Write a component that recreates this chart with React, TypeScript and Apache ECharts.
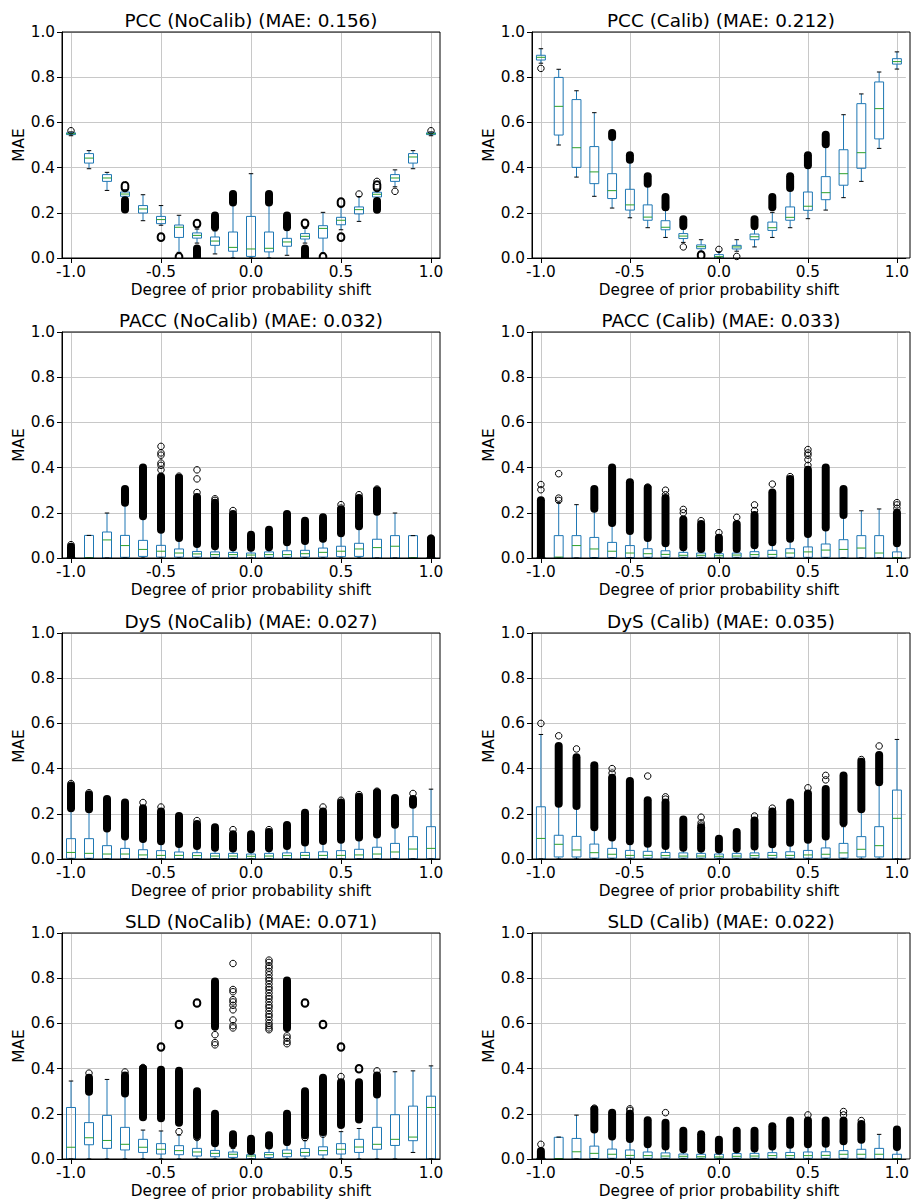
import React, { useEffect, useRef } from "react";
import * as echarts from "echarts";

// ---------------- DATA ----------------
const shiftLabels = [
  "-1.0", "-0.9", "-0.8", "-0.7", "-0.6", "-0.5", "-0.4", "-0.3", "-0.2", "-0.1",
  "0.0", "0.1", "0.2", "0.3", "0.4", "0.5", "0.6", "0.7", "0.8", "0.9", "1.0",
];

// box rows: [lower whisker, Q1, median, Q3, upper whisker]
// bands: [category index, low, high] dense flier clusters; points: [category index, value] single fliers

const pccNoCalibBoxes = [
  [0.541, 0.546, 0.55, 0.554, 0.558], [0.395, 0.42, 0.442, 0.462, 0.475], [0.299, 0.339, 0.354, 0.369, 0.379],
  [0.262, 0.273, 0.283, 0.292, 0.302], [0.165, 0.199, 0.217, 0.232, 0.28], [0.145, 0.152, 0.17, 0.184, 0.232],
  [0.025, 0.091, 0.136, 0.146, 0.189], [0.066, 0.088, 0.1, 0.111, 0.128], [0.018, 0.056, 0.075, 0.093, 0.12],
  [0.0, 0.03, 0.047, 0.115, 0.24], [0.0, 0.007, 0.04, 0.184, 0.373], [0.0, 0.027, 0.043, 0.115, 0.24],
  [0.012, 0.052, 0.071, 0.087, 0.125], [0.066, 0.084, 0.096, 0.108, 0.131], [0.022, 0.088, 0.131, 0.143, 0.202],
  [0.125, 0.147, 0.167, 0.18, 0.229], [0.162, 0.195, 0.214, 0.226, 0.272], [0.258, 0.27, 0.282, 0.291, 0.305],
  [0.315, 0.339, 0.354, 0.369, 0.39], [0.395, 0.42, 0.447, 0.462, 0.475], [0.541, 0.546, 0.55, 0.554, 0.558],
];
const pccNoCalibBands = [
  [3, 0.31, 0.322], [3, 0.215, 0.255], [5, 0.09, 0.095], [6, 0.004, 0.007], [7, 0.15, 0.155], [7, 0.003, 0.042],
  [8, 0.136, 0.188], [9, 0.246, 0.283], [11, 0.246, 0.283], [12, 0.136, 0.188], [13, 0.15, 0.156], [13, 0.003, 0.042],
  [14, 0.004, 0.007], [15, 0.24, 0.25], [15, 0.09, 0.095], [17, 0.31, 0.325], [17, 0.213, 0.252],
];
const pccNoCalibPoints = [[0, 0.563], [16, 0.283], [17, 0.339], [18, 0.295], [20, 0.563]];

const pccCalibBoxes = [
  [0.862, 0.876, 0.888, 0.897, 0.926], [0.5, 0.544, 0.671, 0.799, 0.835], [0.358, 0.401, 0.488, 0.701, 0.74],
  [0.273, 0.329, 0.381, 0.493, 0.643], [0.221, 0.263, 0.298, 0.373, 0.525], [0.178, 0.212, 0.235, 0.304, 0.425],
  [0.134, 0.167, 0.181, 0.235, 0.318], [0.091, 0.125, 0.136, 0.165, 0.212], [0.069, 0.086, 0.097, 0.108, 0.128],
  [0.028, 0.041, 0.05, 0.058, 0.081], [0.0, 0.0, 0.006, 0.015, 0.028], [0.03, 0.04, 0.049, 0.056, 0.081],
  [0.049, 0.081, 0.094, 0.106, 0.128], [0.091, 0.122, 0.134, 0.159, 0.202], [0.134, 0.167, 0.18, 0.226, 0.3],
  [0.174, 0.211, 0.229, 0.292, 0.405], [0.212, 0.258, 0.289, 0.36, 0.498], [0.267, 0.322, 0.373, 0.479, 0.634],
  [0.339, 0.397, 0.466, 0.683, 0.726], [0.485, 0.527, 0.661, 0.779, 0.823], [0.836, 0.858, 0.869, 0.882, 0.912],
];
const pccCalibBands = [
  [4, 0.535, 0.553], [5, 0.435, 0.455], [6, 0.328, 0.362], [7, 0.225, 0.27], [8, 0.142, 0.172], [9, 0.009, 0.015],
  [12, 0.142, 0.172], [13, 0.225, 0.27], [14, 0.31, 0.362], [15, 0.41, 0.455], [16, 0.503, 0.545],
];
const pccCalibPoints = [[0, 0.839], [8, 0.049], [10, 0.038], [11, 0.007]];

const paccNoCalibBoxes = [
  [0, 0, 0, 0, 0], [0, 0, 0.001, 0.1, 0.1], [0, 0, 0.08, 0.115, 0.199],
  [0, 0.003, 0.055, 0.1, 0.24], [0, 0.007, 0.038, 0.078, 0.18], [0, 0.004, 0.03, 0.056, 0.12],
  [0, 0.004, 0.022, 0.04, 0.084], [0, 0.004, 0.018, 0.029, 0.058], [0, 0.003, 0.015, 0.027, 0.049],
  [0, 0.003, 0.015, 0.025, 0.044], [0, 0.0, 0.013, 0.022, 0.041], [0, 0.003, 0.015, 0.027, 0.044],
  [0, 0.003, 0.015, 0.032, 0.066], [0, 0.004, 0.019, 0.034, 0.071], [0, 0.004, 0.025, 0.044, 0.081],
  [0, 0.006, 0.03, 0.052, 0.108], [0, 0.007, 0.04, 0.065, 0.133], [0, 0.0, 0.046, 0.083, 0.199],
  [0, 0.0, 0.052, 0.099, 0.199], [0, 0, 0.001, 0.099, 0.099], [0, 0, 0, 0, 0],
];
const paccNoCalibBands = [
  [0, 0.0, 0.05], [3, 0.245, 0.305], [4, 0.185, 0.4], [5, 0.125, 0.36], [6, 0.088, 0.355], [7, 0.062, 0.27],
  [8, 0.052, 0.245], [9, 0.048, 0.195], [10, 0.045, 0.103], [11, 0.048, 0.125], [12, 0.07, 0.195],
  [13, 0.075, 0.165], [14, 0.085, 0.18], [15, 0.11, 0.215], [16, 0.14, 0.265], [17, 0.205, 0.3], [20, 0.0, 0.085],
];
const paccNoCalibPoints = [
  [0, 0.059], [5, 0.39], [5, 0.41], [5, 0.42], [5, 0.455], [5, 0.465], [5, 0.494], [6, 0.362], [7, 0.29],
  [7, 0.35], [7, 0.39], [8, 0.255], [8, 0.262], [9, 0.21], [15, 0.221], [15, 0.236], [16, 0.28], [17, 0.305], [20, 0.088],
];

const paccCalibBoxes = [
  [0, 0, 0, 0, 0], [0, 0, 0.004, 0.099, 0.245], [0, 0, 0.055, 0.099, 0.236],
  [0, 0.002, 0.04, 0.091, 0.212], [0, 0.002, 0.03, 0.069, 0.152], [0, 0.002, 0.022, 0.055, 0.118],
  [0, 0.003, 0.019, 0.041, 0.084], [0, 0.003, 0.016, 0.032, 0.062], [0, 0.003, 0.012, 0.025, 0.044],
  [0, 0.003, 0.012, 0.022, 0.037], [0, 0.0, 0.01, 0.019, 0.034], [0, 0.003, 0.013, 0.022, 0.037],
  [0, 0.003, 0.015, 0.028, 0.052], [0, 0.003, 0.016, 0.034, 0.066], [0, 0.003, 0.022, 0.041, 0.081],
  [0, 0.003, 0.027, 0.049, 0.103], [0, 0.003, 0.035, 0.062, 0.131], [0, 0.0, 0.038, 0.081, 0.184],
  [0, 0.0, 0.044, 0.099, 0.209], [0, 0.0, 0.022, 0.099, 0.217], [0, 0.0, 0.001, 0.027, 0.06],
];
const paccCalibBands = [
  [0, 0.0, 0.255], [3, 0.218, 0.305], [4, 0.155, 0.4], [5, 0.12, 0.335], [6, 0.088, 0.31], [7, 0.065, 0.265],
  [8, 0.048, 0.17], [9, 0.04, 0.15], [10, 0.038, 0.09], [11, 0.04, 0.15], [12, 0.056, 0.19], [13, 0.07, 0.29],
  [14, 0.085, 0.35], [15, 0.106, 0.39], [16, 0.135, 0.4], [17, 0.19, 0.305], [20, 0.065, 0.2],
];
const paccCalibPoints = [
  [0, 0.302], [0, 0.325], [1, 0.255], [1, 0.265], [1, 0.373], [6, 0.314], [7, 0.28], [7, 0.3], [8, 0.2],
  [8, 0.215], [9, 0.165], [10, 0.112], [11, 0.18], [12, 0.21], [12, 0.235], [13, 0.327], [14, 0.36],
  [15, 0.41], [15, 0.435], [15, 0.455], [15, 0.465], [15, 0.48], [20, 0.22], [20, 0.235], [20, 0.245],
];

const dysNoCalibBoxes = [
  [0, 0.003, 0.029, 0.09, 0.219], [0, 0.003, 0.025, 0.09, 0.216], [0, 0.001, 0.022, 0.059, 0.131],
  [0, 0.001, 0.022, 0.047, 0.096], [0, 0.001, 0.018, 0.041, 0.084], [0, 0.001, 0.016, 0.037, 0.074],
  [0, 0.001, 0.016, 0.031, 0.062], [0, 0.001, 0.015, 0.028, 0.054], [0, 0.001, 0.013, 0.025, 0.047],
  [0, 0.001, 0.013, 0.025, 0.043], [0, 0.001, 0.012, 0.022, 0.04], [0, 0.001, 0.013, 0.025, 0.044],
  [0, 0.001, 0.015, 0.027, 0.054], [0, 0.001, 0.016, 0.029, 0.069], [0, 0.001, 0.016, 0.032, 0.077],
  [0, 0.001, 0.016, 0.037, 0.081], [0, 0.001, 0.018, 0.043, 0.091], [0, 0.001, 0.022, 0.052, 0.103],
  [0, 0.001, 0.031, 0.069, 0.147], [0, 0.001, 0.044, 0.099, 0.231], [0, 0.001, 0.047, 0.143, 0.309],
];
const dysNoCalibBands = [
  [0, 0.225, 0.325], [1, 0.22, 0.285], [2, 0.135, 0.265], [3, 0.1, 0.25], [4, 0.088, 0.225], [5, 0.078, 0.21],
  [6, 0.066, 0.19], [7, 0.058, 0.155], [8, 0.05, 0.14], [9, 0.047, 0.11], [10, 0.043, 0.11], [11, 0.048, 0.12],
  [12, 0.058, 0.15], [13, 0.073, 0.205], [14, 0.08, 0.21], [15, 0.085, 0.25], [16, 0.095, 0.275],
  [17, 0.108, 0.295], [18, 0.152, 0.27], [19, 0.24, 0.265],
];
const dysNoCalibPoints = [
  [0, 0.334], [1, 0.293], [4, 0.25], [5, 0.23], [7, 0.17], [9, 0.13], [11, 0.13], [14, 0.23], [15, 0.26],
  [16, 0.285], [17, 0.3], [19, 0.29],
];

const dysCalibBoxes = [
  [0, 0.0, 0.091, 0.231, 0.551], [0, 0.009, 0.065, 0.105, 0.242], [0, 0.009, 0.04, 0.1, 0.231],
  [0, 0.004, 0.028, 0.066, 0.135], [0, 0.004, 0.021, 0.047, 0.091], [0, 0.004, 0.016, 0.038, 0.074],
  [0, 0.004, 0.016, 0.034, 0.065], [0, 0.004, 0.015, 0.029, 0.054], [0, 0.004, 0.013, 0.027, 0.047],
  [0, 0.004, 0.013, 0.025, 0.044], [0, 0.004, 0.012, 0.022, 0.04], [0, 0.004, 0.013, 0.025, 0.044],
  [0, 0.004, 0.015, 0.027, 0.052], [0, 0.004, 0.016, 0.029, 0.062], [0, 0.004, 0.016, 0.032, 0.069],
  [0, 0.004, 0.018, 0.038, 0.081], [0, 0.004, 0.021, 0.049, 0.096], [0, 0.004, 0.027, 0.069, 0.143],
  [0, 0.009, 0.043, 0.099, 0.216], [0, 0.009, 0.059, 0.143, 0.334], [0, 0.0, 0.18, 0.305, 0.529],
];
const dysCalibBands = [
  [1, 0.245, 0.5], [2, 0.235, 0.45], [3, 0.14, 0.415], [4, 0.095, 0.36], [5, 0.078, 0.345], [6, 0.068, 0.26],
  [7, 0.058, 0.25], [8, 0.05, 0.175], [9, 0.047, 0.14], [10, 0.043, 0.09], [11, 0.047, 0.12], [12, 0.055, 0.17],
  [13, 0.065, 0.21], [14, 0.072, 0.25], [15, 0.085, 0.29], [16, 0.1, 0.31], [17, 0.16, 0.37], [18, 0.22, 0.43],
  [19, 0.34, 0.46],
];
const dysCalibPoints = [
  [0, 0.6], [1, 0.545], [2, 0.487], [4, 0.38], [4, 0.4], [6, 0.367], [7, 0.265], [7, 0.275], [9, 0.15],
  [9, 0.16], [9, 0.185], [12, 0.19], [13, 0.225], [15, 0.315], [16, 0.35], [16, 0.37], [18, 0.44], [19, 0.5],
];

const sldNoCalibBoxes = [
  [0, 0.0, 0.052, 0.228, 0.345], [0, 0.063, 0.094, 0.161, 0.293], [0, 0.047, 0.082, 0.193, 0.352],
  [0, 0.04, 0.065, 0.14, 0.283], [0, 0.029, 0.052, 0.087, 0.128], [0, 0.022, 0.043, 0.068, 0.124],
  [0, 0.019, 0.037, 0.059, 0.106], [0, 0.013, 0.031, 0.047, 0.087], [0, 0.01, 0.025, 0.038, 0.062],
  [0, 0.007, 0.021, 0.031, 0.047], [0, 0.001, 0.013, 0.019, 0.032], [0, 0.006, 0.019, 0.029, 0.047],
  [0, 0.01, 0.025, 0.04, 0.062], [0, 0.013, 0.029, 0.046, 0.081], [0, 0.018, 0.037, 0.054, 0.106],
  [0, 0.022, 0.043, 0.068, 0.121], [0, 0.029, 0.053, 0.087, 0.135], [0, 0.043, 0.065, 0.14, 0.275],
  [0, 0.06, 0.087, 0.196, 0.386], [0.029, 0.081, 0.097, 0.234, 0.39], [0, 0.0, 0.228, 0.278, 0.412],
];
const sldNoCalibBands = [
  [1, 0.298, 0.36], [3, 0.29, 0.37], [4, 0.185, 0.4], [5, 0.18, 0.395], [5, 0.494, 0.498], [6, 0.16, 0.39],
  [6, 0.593, 0.597], [7, 0.105, 0.3], [7, 0.688, 0.692], [8, 0.07, 0.2], [8, 0.585, 0.785], [9, 0.065, 0.11],
  [10, 0.035, 0.09], [11, 0.06, 0.105], [12, 0.075, 0.2], [12, 0.58, 0.79], [13, 0.105, 0.3], [13, 0.688, 0.692],
  [14, 0.12, 0.36], [14, 0.593, 0.597], [15, 0.15, 0.34], [15, 0.494, 0.498], [16, 0.175, 0.34], [16, 0.397, 0.401],
  [17, 0.285, 0.37],
];
const sldNoCalibPoints = [
  [1, 0.38], [3, 0.385], [4, 0.405], [6, 0.121], [7, 0.095],
  [8, 0.505], [8, 0.515], [8, 0.55], [9, 0.58], [9, 0.59], [9, 0.615], [9, 0.66], [9, 0.68], [9, 0.695],
  [9, 0.705], [9, 0.74], [9, 0.75], [9, 0.865],
  [11, 0.572], [11, 0.58], [11, 0.59], [11, 0.6], [11, 0.615], [11, 0.63], [11, 0.64], [11, 0.655], [11, 0.67],
  [11, 0.68], [11, 0.695], [11, 0.71], [11, 0.72], [11, 0.735], [11, 0.75], [11, 0.76], [11, 0.775], [11, 0.79],
  [11, 0.8], [11, 0.815], [11, 0.83], [11, 0.845], [11, 0.855], [11, 0.87], [11, 0.88],
  [12, 0.51], [12, 0.52], [12, 0.535], [12, 0.545], [13, 0.095], [14, 0.11],
  [15, 0.365], [17, 0.39],
];

const sldCalibBoxes = [
  [0, 0, 0.0, 0.003, 0.003], [0, 0, 0.002, 0.096, 0.097], [0, 0.0, 0.032, 0.091, 0.194],
  [0, 0.002, 0.025, 0.057, 0.128], [0, 0.003, 0.021, 0.044, 0.096], [0, 0.003, 0.016, 0.04, 0.084],
  [0, 0.003, 0.015, 0.031, 0.062], [0, 0.003, 0.013, 0.027, 0.052], [0, 0.003, 0.012, 0.022, 0.04],
  [0, 0.003, 0.01, 0.021, 0.037], [0, 0.003, 0.009, 0.021, 0.034], [0, 0.003, 0.012, 0.024, 0.04],
  [0, 0.003, 0.013, 0.025, 0.043], [0, 0.003, 0.015, 0.028, 0.052], [0, 0.003, 0.015, 0.029, 0.059],
  [0, 0.003, 0.015, 0.031, 0.062], [0, 0.003, 0.016, 0.032, 0.065], [0, 0.003, 0.021, 0.037, 0.074],
  [0, 0.003, 0.021, 0.043, 0.081], [0, 0.0, 0.021, 0.047, 0.109], [0, 0.0, 0.001, 0.021, 0.05],
];
const sldCalibBands = [
  [0, 0.0, 0.035], [3, 0.13, 0.22], [4, 0.1, 0.205], [5, 0.088, 0.2], [6, 0.065, 0.172], [7, 0.055, 0.16],
  [8, 0.043, 0.125], [9, 0.04, 0.11], [10, 0.037, 0.085], [11, 0.043, 0.125], [12, 0.047, 0.125],
  [13, 0.055, 0.145], [14, 0.063, 0.17], [15, 0.065, 0.17], [16, 0.068, 0.17], [17, 0.078, 0.17],
  [18, 0.085, 0.155], [20, 0.053, 0.13],
];
const sldCalibPoints = [
  [0, 0.065], [3, 0.225], [5, 0.215], [5, 0.222], [7, 0.205], [15, 0.195], [17, 0.195], [17, 0.21], [18, 0.17],
];

const panelTitles = [
  "PCC (NoCalib) (MAE: 0.156)", "PCC (Calib) (MAE: 0.212)",
  "PACC (NoCalib) (MAE: 0.032)", "PACC (Calib) (MAE: 0.033)",
  "DyS (NoCalib) (MAE: 0.027)", "DyS (Calib) (MAE: 0.035)",
  "SLD (NoCalib) (MAE: 0.071)", "SLD (Calib) (MAE: 0.022)",
];
const panelBoxes = [pccNoCalibBoxes, pccCalibBoxes, paccNoCalibBoxes, paccCalibBoxes, dysNoCalibBoxes, dysCalibBoxes, sldNoCalibBoxes, sldCalibBoxes];
const panelBands = [pccNoCalibBands, pccCalibBands, paccNoCalibBands, paccCalibBands, dysNoCalibBands, dysCalibBands, sldNoCalibBands, sldCalibBands];
const panelPoints = [pccNoCalibPoints, pccCalibPoints, paccNoCalibPoints, paccCalibPoints, dysNoCalibPoints, dysCalibPoints, sldNoCalibPoints, sldCalibPoints];

// ---------------- LAYOUT / STYLE ----------------
const COL_LEFT = [62, 532];
const ROW_TOP = [32, 332, 633, 933];
const PLOT_W = 378;
const PLOT_H = 226;
const FONT = "DejaVu Sans";
const TICK_FS = 15.3;
const TITLE_FS = 18.4;
const BLUE = "#1f77b4";
const GREEN = "#2ca02c";
const GRID_C = "#c8c8c8";

export default function App() {
  const ref = useRef<HTMLDivElement>(null);

  useEffect(() => {
    if (!ref.current) return;
    const chart = echarts.init(ref.current, undefined, { renderer: "svg" });

    const grids: any[] = [];
    const xAxes: any[] = [];
    const yAxes: any[] = [];
    const series: any[] = [];
    const graphics: any[] = [];

    for (let k = 0; k < 8; k++) {
      const left = COL_LEFT[k % 2];
      const top = ROW_TOP[Math.floor(k / 2)];
      grids.push({ left, top, width: PLOT_W, height: PLOT_H, containLabel: false });
      xAxes.push({
        gridIndex: k,
        type: "category",
        data: shiftLabels,
        boundaryGap: true,
        axisLine: { show: true, lineStyle: { color: "#000", width: 1 } },
        axisTick: { show: true, alignWithLabel: true, interval: 4, length: 5, lineStyle: { color: "#000", width: 1 } },
        axisLabel: { interval: 4, fontSize: TICK_FS, fontFamily: FONT, color: "#000", margin: 6 },
        splitLine: { show: true, interval: 4, alignWithLabel: true, lineStyle: { color: GRID_C, width: 1 } },
        name: "Degree of prior probability shift",
        nameLocation: "middle",
        nameGap: 24,
        nameTextStyle: { fontSize: TICK_FS, fontFamily: FONT, color: "#000", verticalAlign: "top" },
      });
      yAxes.push({
        gridIndex: k,
        type: "value",
        min: 0,
        max: 1,
        interval: 0.2,
        axisLine: { show: true, lineStyle: { color: "#000", width: 1 } },
        axisTick: { show: true, length: 5, lineStyle: { color: "#000", width: 1 } },
        axisLabel: { fontSize: TICK_FS, fontFamily: FONT, color: "#000", margin: 7, formatter: (v: number) => v.toFixed(1) },
        splitLine: { show: true, lineStyle: { color: GRID_C, width: 1 } },
        name: "MAE",
        nameLocation: "middle",
        nameGap: 33,
        nameTextStyle: { fontSize: TICK_FS, fontFamily: FONT, color: "#000" },
      });

      series.push({
        type: "custom",
        xAxisIndex: k,
        yAxisIndex: k,
        clip: true,
        z: 2,
        data: panelBoxes[k].map((b, i) => [i, ...b]),
        encode: { x: 0, y: [1, 2, 3, 4, 5] },
        renderItem: (params: any, api: any) => {
          const i = api.value(0);
          const lo = api.coord([i, api.value(1)]);
          const q1 = api.coord([i, api.value(2)]);
          const md = api.coord([i, api.value(3)]);
          const q3 = api.coord([i, api.value(4)]);
          const hi = api.coord([i, api.value(5)]);
          const band = api.size([1, 0])[0];
          const bw = band * 0.5;
          const cw = bw * 0.5;
          const cx = lo[0];
          const ln = (x1: number, y1: number, x2: number, y2: number, c: string) => ({
            type: "line",
            shape: { x1, y1, x2, y2 },
            style: { stroke: c, lineWidth: 1 },
          });
          return {
            type: "group",
            children: [
              ln(cx, q3[1], cx, hi[1], BLUE),
              ln(cx, q1[1], cx, lo[1], BLUE),
              {
                type: "rect",
                shape: { x: cx - bw / 2, y: q3[1], width: bw, height: q1[1] - q3[1] },
                style: { fill: "none", stroke: BLUE, lineWidth: 1 },
              },
              ln(cx - cw / 2, hi[1], cx + cw / 2, hi[1], "#000"),
              ln(cx - cw / 2, lo[1], cx + cw / 2, lo[1], "#000"),
              ln(cx - bw / 2, md[1], cx + bw / 2, md[1], GREEN),
            ],
          };
        },
      });

      series.push({
        type: "custom",
        xAxisIndex: k,
        yAxisIndex: k,
        clip: true,
        z: 3,
        data: panelBands[k],
        encode: { x: 0, y: [1, 2] },
        renderItem: (params: any, api: any) => {
          const i = api.value(0);
          const a = api.coord([i, api.value(1)]);
          const b = api.coord([i, api.value(2)]);
          const h = a[1] - b[1];
          if (h < 4) {
            const r = 3.3;
            return {
              type: "rect",
              shape: { x: a[0] - r, y: b[1] - r, width: 2 * r, height: h + 2 * r, r },
              style: { fill: "none", stroke: "#000", lineWidth: 2 },
            };
          }
          const r = 4;
          return {
            type: "rect",
            shape: { x: a[0] - r, y: b[1] - r, width: 2 * r, height: h + 2 * r, r },
            style: { fill: "#000" },
          };
        },
      });

      series.push({
        type: "scatter",
        xAxisIndex: k,
        yAxisIndex: k,
        z: 4,
        symbol: "circle",
        symbolSize: 6.5,
        data: panelPoints[k],
        itemStyle: { color: "rgba(0,0,0,0)", borderColor: "#000", borderWidth: 1, opacity: 1 },
        emphasis: { disabled: true },
      });

      graphics.push({
        type: "rect",
        shape: { x: left, y: top, width: PLOT_W, height: PLOT_H },
        style: { fill: "none", stroke: "#000", lineWidth: 1 },
        z: 100,
        silent: true,
      });
      graphics.push({
        type: "text",
        x: left + PLOT_W / 2,
        y: top - 12,
        style: {
          text: panelTitles[k],
          font: `${TITLE_FS}px "${FONT}"`,
          fontSize: TITLE_FS,
          fontFamily: FONT,
          fill: "#000",
          align: "center",
          verticalAlign: "middle",
          textAlign: "center",
          textVerticalAlign: "middle",
        },
        z: 100,
      });
    }

    chart.setOption({
      animation: false,
      backgroundColor: "#fff",
      textStyle: { fontFamily: FONT },
      grid: grids,
      xAxis: xAxes,
      yAxis: yAxes,
      series,
      graphic: graphics,
    });

    return () => chart.dispose();
  }, []);

  return (
    <div
      ref={ref}
      style={{ position: "absolute", left: 0, top: 0, width: 912, height: 1200 }}
    />
  );
}
